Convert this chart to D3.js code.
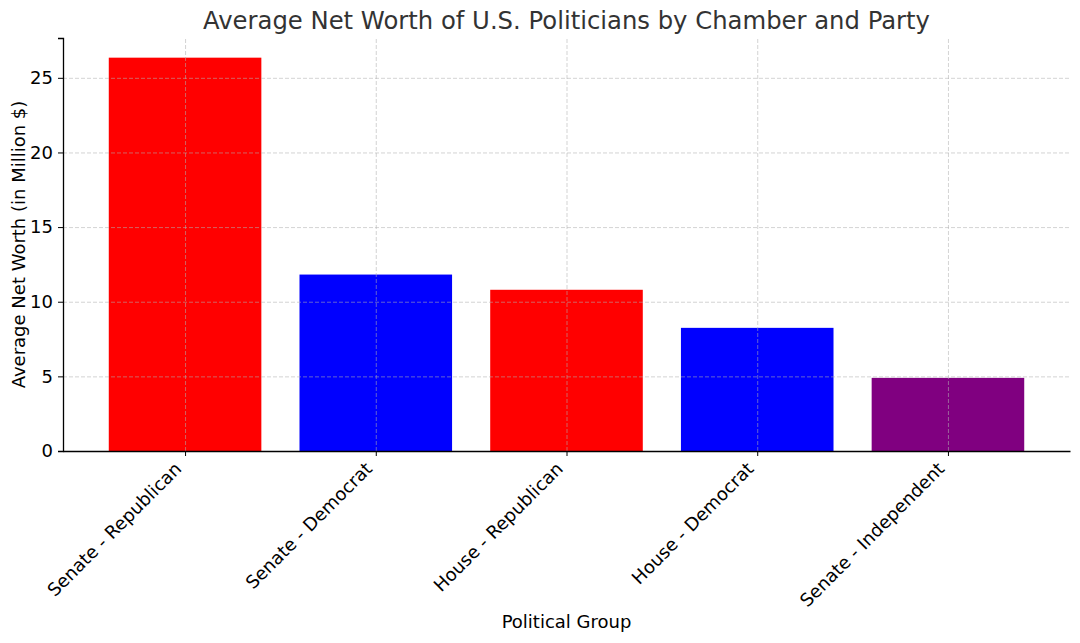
<!DOCTYPE html>
<html>
<head>
<meta charset="utf-8">
<script src="https://cdn.jsdelivr.net/npm/d3@7"></script>
<style>
  body { margin: 0; background: #fff; }
  svg text { font-family: "DejaVu Sans", sans-serif; }
</style>
</head>
<body>
<svg id="chart" width="1080" height="643"></svg>
<script>
const groups = ["Senate - Republican", "Senate - Democrat", "House - Republican", "House - Democrat", "Senate - Independent"];
const netWorth = [26.35, 11.82, 10.8, 8.25, 4.9];
const barColors = ["red", "blue", "red", "blue", "purple"];
const yTicks = [0, 5, 10, 15, 20, 25];

const svg = d3.select("#chart");
const margin = { left: 63, right: 10, top: 38, bottom: 192 };
const width = 1080 - margin.left - margin.right;
const height = 643 - margin.top - margin.bottom;

const g = svg.append("g")
    .attr("transform", `translate(${margin.left},${margin.top})`);

// matplotlib-like: bar width 0.8, 5% margins
const n = groups.length;
const xLin = d3.scaleLinear()
    .domain([-0.4 - 0.05 * (n - 0.2), n - 0.6 + 0.05 * (n - 0.2)])
    .range([0, width]);
const yMax = d3.max(netWorth) * 1.05;
const y = d3.scaleLinear().domain([0, yMax]).range([height, 0]);

// bars
g.selectAll("rect.bar")
    .data(netWorth)
    .join("rect")
    .attr("class", "bar")
    .attr("x", (d, i) => xLin(i - 0.4))
    .attr("width", (d, i) => xLin(i + 0.4) - xLin(i - 0.4))
    .attr("y", d => y(d))
    .attr("height", d => height - y(d))
    .attr("fill", (d, i) => barColors[i]);

// grid on top of the bars
const gridY = g.append("g")
    .call(d3.axisLeft(y).tickValues(yTicks).tickSize(-width).tickFormat(""));
gridY.select(".domain").remove();
gridY.selectAll("line").attr("stroke", "#b0b0b0").attr("stroke-opacity", 0.7).attr("stroke-dasharray", "4,2").attr("stroke-width", 0.8);

const gridX = g.append("g")
    .attr("transform", `translate(0,${height})`)
    .call(d3.axisBottom(xLin).tickValues(d3.range(n)).tickSize(-height).tickFormat(""));
gridX.select(".domain").remove();
gridX.selectAll("line").attr("stroke", "#b0b0b0").attr("stroke-opacity", 0.7).attr("stroke-dasharray", "4,2").attr("stroke-width", 0.8);

// y axis
const yAxis = g.append("g")
    .call(d3.axisLeft(y).tickValues(yTicks).tickSize(5).tickPadding(5));
yAxis.select(".domain").attr("stroke", "#000").attr("stroke-width", 1.3);
yAxis.selectAll("text").attr("font-size", 18).attr("fill", "#000");
yAxis.selectAll("line").attr("stroke", "#000");

// x axis
const xAxis = g.append("g")
    .attr("transform", `translate(0,${height})`)
    .call(d3.axisBottom(xLin).tickValues(d3.range(n)).tickSize(5).tickFormat(i => groups[i]).tickSizeOuter(0));
xAxis.select(".domain").attr("stroke", "#000").attr("stroke-width", 1.3);
xAxis.selectAll("line").attr("stroke", "#000");
xAxis.selectAll("text")
    .attr("font-size", 18)
    .attr("fill", "#000")
    .attr("text-anchor", "end")
    .attr("y", 0)
    .attr("dy", 0)
    .attr("transform", "translate(-3,19) rotate(-45)");

// axis labels
svg.append("text")
    .attr("x", margin.left + width / 2)
    .attr("y", 628)
    .attr("text-anchor", "middle")
    .attr("font-size", 18)
    .attr("fill", "#000")
    .text("Political Group");

svg.append("text")
    .attr("transform", `translate(25,${margin.top + height / 2}) rotate(-90)`)
    .attr("text-anchor", "middle")
    .attr("font-size", 18)
    .attr("fill", "#000")
    .text("Average Net Worth (in Million $)");

// title
svg.append("text")
    .attr("x", margin.left + width / 2)
    .attr("y", 29)
    .attr("text-anchor", "middle")
    .attr("font-size", 24.3)
    .attr("fill", "#333")
    .text("Average Net Worth of U.S. Politicians by Chamber and Party");
</script>
</body>
</html>
